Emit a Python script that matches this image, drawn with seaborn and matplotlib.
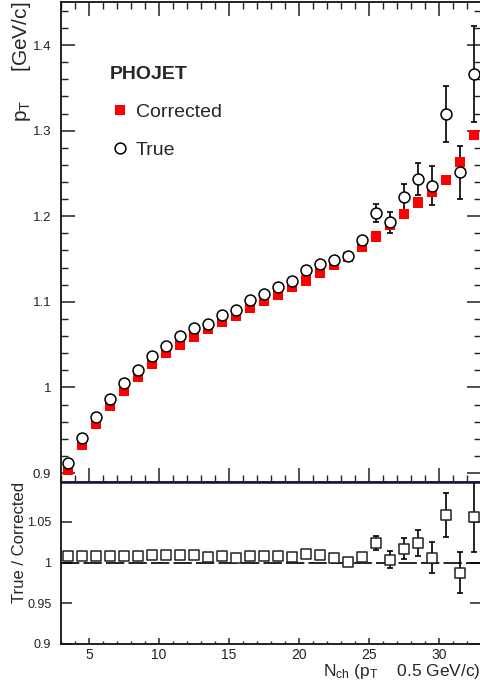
import numpy as np
import pandas as pd
import matplotlib
matplotlib.use("Agg")
import matplotlib.pyplot as plt
from matplotlib.ticker import MultipleLocator, FixedLocator, FuncFormatter
from matplotlib.lines import Line2D
import seaborn as sns

# ---------------- data ----------------
nch = [3.5, 4.5, 5.5, 6.5, 7.5, 8.5, 9.5, 10.5, 11.5, 12.5, 13.5, 14.5, 15.5,
       16.5, 17.5, 18.5, 19.5, 20.5, 21.5, 22.5, 23.5, 24.5, 25.5, 26.5, 27.5,
       28.5, 29.5, 30.5, 31.5, 32.5]

corrected = [0.904, 0.933, 0.958, 0.978, 0.9965, 1.0125, 1.028, 1.040, 1.050,
             1.0596, 1.068, 1.077, 1.084, 1.093, 1.101, 1.1086, 1.117, 1.125,
             1.134, 1.1437, 1.152, 1.164, 1.1764, 1.1896, 1.203, 1.216, 1.228,
             1.2426, 1.263, 1.295]

true_vals = [0.9116, 0.9404, 0.9653, 0.9864, 1.005, 1.0207, 1.0362, 1.048,
             1.0596, 1.069, 1.0744, 1.0841, 1.091, 1.1016, 1.1094, 1.1172,
             1.1242, 1.1375, 1.1437, 1.1484, 1.153, 1.1717, 1.2041, 1.1928,
             1.2223, 1.2433, 1.2356, 1.3189, 1.2515, 1.3663]

true_err = [0.0008, 0.0008, 0.0008, 0.0009, 0.0009, 0.001, 0.001, 0.0011,
            0.0012, 0.0013, 0.0014, 0.0015, 0.0016, 0.0018, 0.002, 0.0022,
            0.0024, 0.0026, 0.0029, 0.0032, 0.0035, 0.004, 0.0105, 0.0125,
            0.0156, 0.019, 0.0226, 0.0327, 0.031, 0.056]

ratio = [1.0078, 1.0078, 1.0086, 1.0086, 1.0082, 1.0086, 1.0094, 1.0090,
         1.0098, 1.0090, 1.0066, 1.0082, 1.0057, 1.0086, 1.0086, 1.0086,
         1.0070, 1.0102, 1.0094, 1.0053, 1.0012, 1.0070, 1.0237, 1.0037,
         1.0172, 1.0237, 1.0061, 1.0586, 0.9877, 1.0565]

ratio_err = [0.0007, 0.0007, 0.0007, 0.0008, 0.0008, 0.0009, 0.0009, 0.001,
             0.001, 0.0011, 0.0012, 0.0013, 0.0014, 0.0016, 0.0017, 0.0019,
             0.0021, 0.0023, 0.0025, 0.0028, 0.003, 0.0034, 0.0086, 0.010,
             0.0133, 0.016, 0.019, 0.027, 0.025, 0.044]

y_ticks_top = [0.9, 1.0, 1.1, 1.2, 1.3, 1.4]
y_ticks_ratio = [0.9, 0.95, 1.0, 1.05]
x_ticks = [5, 10, 15, 20, 25, 30]

df = pd.DataFrame({"nch": nch, "corrected": corrected, "true": true_vals,
                   "true_err": true_err, "ratio": ratio, "ratio_err": ratio_err})

# ---------------- style ----------------
sns.set_style("ticks")
plt.rcParams["font.family"] = ["Liberation Sans", "DejaVu Sans"]
plt.rcParams["mathtext.fontset"] = "custom"
plt.rcParams["mathtext.rm"] = "Liberation Sans"
plt.rcParams["mathtext.it"] = "Liberation Sans"

W, H = 481, 691
fig = plt.figure(figsize=(W / 100, H / 100), dpi=100)
L = 61 / W
axw = 420 / W
ax = fig.add_axes([L, 1 - 482 / H, axw, 480 / H])
axr = fig.add_axes([L, 1 - 644 / H, axw, 162 / H])

fmt = FuncFormatter(lambda v, p: f"{v:g}")

# ---------------- top panel ----------------
ax.errorbar(df["nch"], df["true"], yerr=df["true_err"], fmt="none",
            ecolor="black", elinewidth=1.2, capsize=2.0, capthick=1.2, zorder=2)
sns.scatterplot(data=df, x="nch", y="corrected", ax=ax, marker="s", s=55,
                color="#ff0000", edgecolor="none", linewidth=0, zorder=3,
                label="Corrected")
sns.scatterplot(data=df, x="nch", y="true", ax=ax, marker="o", s=62,
                facecolor="white", edgecolor="black", linewidth=1.1, zorder=4,
                label="True")

ax.set_xlim(3, 33)
ax.set_ylim(0.8895, 1.4503)
ax.xaxis.set_major_locator(FixedLocator(x_ticks))
ax.xaxis.set_minor_locator(MultipleLocator(1))
ax.yaxis.set_major_locator(FixedLocator(y_ticks_top))
ax.yaxis.set_minor_locator(MultipleLocator(0.02))
ax.yaxis.set_major_formatter(fmt)
ax.tick_params(axis="both", which="both", direction="in", top=True, right=True,
               labelbottom=False, color="#222222")
ax.tick_params(axis="both", which="major", length=10, width=1.1, labelsize=9.5,
               pad=7, labelcolor="#222222")
ax.tick_params(axis="both", which="minor", length=5, width=1.0)
ax.set_xlabel("")
ax.set_ylabel("p$_\\mathregular{T}$     [GeV/c]", fontsize=15, loc="top")
ax.yaxis.set_label_coords(-0.066, 1.0)
for s in ax.spines.values():
    s.set_linewidth(1.3)
    s.set_color("#111111")
ax.spines["bottom"].set_color("#14143a")
ax.spines["bottom"].set_linewidth(1.8)

handles = [Line2D([], [], marker="s", color="#ff0000", linestyle="none",
                  markersize=7.5, markeredgewidth=0),
           Line2D([], [], marker="o", markerfacecolor="white",
                  markeredgecolor="black", linestyle="none", markersize=7.8,
                  markeredgewidth=1.1)]
leg = ax.legend(handles, ["Corrected", "True"], title="PHOJET",
                loc="upper left", bbox_to_anchor=(0.107, 0.874), frameon=False,
                fontsize=14, title_fontproperties={"weight": "bold", "size": 14},
                alignment="left", handlelength=1.0, handletextpad=0.35,
                labelspacing=1.04, borderpad=0.2, borderaxespad=0.0)

# ---------------- ratio panel ----------------
axr.axhline(1.0, color="black", linewidth=1.2, dashes=(11, 2.5), zorder=1)
axr.errorbar(df["nch"], df["ratio"], yerr=df["ratio_err"], fmt="none",
             ecolor="black", elinewidth=1.2, capsize=2.0, capthick=1.2, zorder=2)
sns.scatterplot(data=df, x="nch", y="ratio", ax=axr, marker="s", s=55,
                facecolor="white", edgecolor="#222222", linewidth=1.1, zorder=3)
axr.set_xlim(3, 33)
axr.set_ylim(0.9, 1.099)
axr.xaxis.set_major_locator(FixedLocator(x_ticks))
axr.xaxis.set_minor_locator(MultipleLocator(1))
axr.yaxis.set_major_locator(FixedLocator(y_ticks_ratio))
axr.yaxis.set_major_formatter(fmt)
axr.xaxis.set_major_formatter(fmt)
axr.tick_params(axis="both", which="both", direction="in", right=True,
                top=False, color="#222222", labelcolor="#222222")
axr.tick_params(axis="y", which="major", length=8, width=1.1, labelsize=9,
                pad=7)
axr.tick_params(axis="x", which="major", length=4, width=1.1, labelsize=10,
                pad=3)
axr.tick_params(axis="x", which="minor", length=2.5, width=1.0)
axr.tick_params(axis="y", which="minor", length=0)
axr.set_xlabel("N$_\\mathregular{ch}$ (p$_\\mathregular{T}$    0.5 GeV/c)",
               fontsize=12.5, loc="right", labelpad=0)
axr.set_ylabel("True / Corrected", fontsize=12, loc="top")
axr.yaxis.set_label_coords(-0.08, 1.0)
for s in axr.spines.values():
    s.set_linewidth(1.3)
    s.set_color("#111111")
axr.spines["top"].set_color("#14143a")
axr.spines["top"].set_linewidth(1.8)

fig.savefig("out.png", dpi=100)
